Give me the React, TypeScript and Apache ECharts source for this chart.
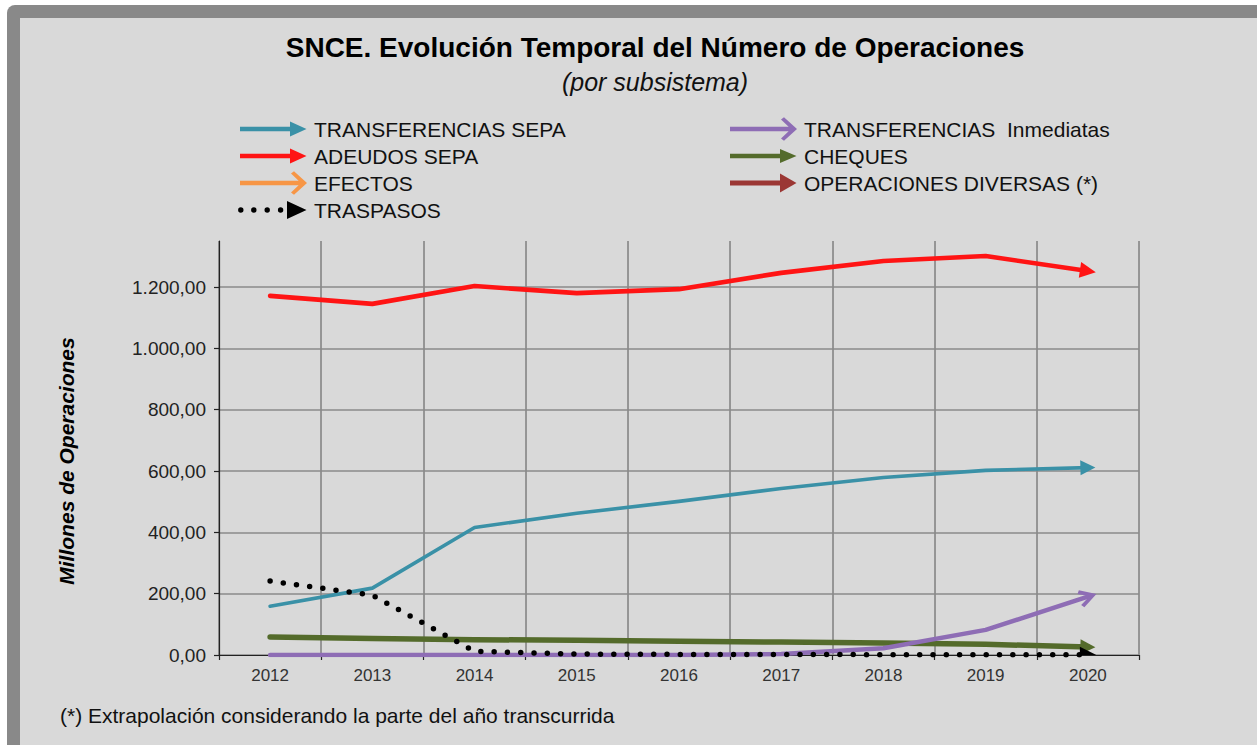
import React, { useEffect, useRef } from 'react';
import * as echarts from 'echarts';

const years = ['2012', '2013', '2014', '2015', '2016', '2017', '2018', '2019', '2020'];
const transferenciasSepa = [159, 218, 416, 462, 501, 543, 579, 602, 611];
const adeudosSepa = [1171, 1145, 1203, 1180, 1193, 1246, 1285, 1301, 1252];
const efectos: (number | null)[] = [null, null, null, null, null, null, null, null, null];
const traspasos = [241, 195, 12, 3, 2, 2, 1, 1, 0.5];
const transferenciasInmediatas = [0, 0, 0, 0, 0, 3, 22, 82, 190];
const cheques = [59, 54, 50, 48, 45, 42, 39, 35, 26];
const operacionesDiversas: (number | null)[] = [null, null, null, null, null, null, null, null, null];

const yMin = 0;
const yMax = 1350;
const yInterval = 200;

const FONT = '"Liberation Sans", Arial, Helvetica, sans-serif';

const fmt = (v: number) => {
  const [i, d] = v.toFixed(2).split('.');
  return i.replace(/\B(?=(\d{3})+(?!\d))/g, '.') + ',' + d;
};

// legend icons in a 71 x 24 box (corner moveTo points fix the box)
const BOX = 'M0,0 M71,24 ';
const solidIcon = (h: number, t = 4.6) =>
  'path://' + BOX +
  `M2,${12 - t / 2} L52,${12 - t / 2} L52,${12 - h} L68.5,12 L52,${12 + h} L52,${12 + t / 2} L2,${12 + t / 2} Z`;
const chevronIcon =
  'path://' + BOX +
  'M2,9.7 L63,9.7 L63,14.3 L2,14.3 Z M53,2.6 L56,0.3 L69,12 L56,23.7 L53,21.4 L63,12 Z';
const dot = (cx: number, r = 2.7) =>
  `M${cx - r},12 A${r},${r} 0 1 0 ${cx + r},12 A${r},${r} 0 1 0 ${cx - r},12 Z `;
const dottedIcon =
  'path://' + BOX + dot(2.8) + dot(15.8) + dot(29.2) + dot(42.6) + 'M49,3 L68.5,12 L49,21 Z';

const chevronSymbol = 'path://M0,13 L10,0 L20,13 L16.5,15 L10,6 L3.5,15 Z';

type S = {
  name: string;
  values: (number | null)[];
  color: string;
  width: number;
  z: number;
  end: string;
  size: number;
  dash?: number[];
};

const seriesDefs: S[] = [
  { name: 'EFECTOS', values: efectos, color: '#f79646', width: 4.5, z: 2, end: chevronSymbol, size: 16 },
  { name: 'OPERACIONES DIVERSAS (*)', values: operacionesDiversas, color: '#9b3734', width: 4.5, z: 2, end: 'triangle', size: 16 },
  { name: 'CHEQUES', values: cheques, color: '#546b2b', width: 5.5, z: 3, end: 'triangle', size: 15 },
  { name: 'TRANSFERENCIAS  Inmediatas', values: transferenciasInmediatas, color: '#8e6db5', width: 4.5, z: 4, end: chevronSymbol, size: 18 },
  { name: 'TRANSFERENCIAS SEPA', values: transferenciasSepa, color: '#3a91a7', width: 3.6, z: 5, end: 'triangle', size: 15 },
  { name: 'ADEUDOS SEPA', values: adeudosSepa, color: '#ff1414', width: 4.6, z: 6, end: 'triangle', size: 16 },
  { name: 'TRASPASOS', values: traspasos, color: '#000000', width: 5.5, z: 7, end: 'triangle', size: 16, dash: [0, 13.3] },
];

export default function App() {
  const ref = useRef<HTMLDivElement>(null);

  useEffect(() => {
    if (!ref.current) return;
    const chart = echarts.init(ref.current, null, { renderer: 'svg' });

    const series: any[] = [];
    seriesDefs.forEach((s) => {
      const coords = s.values
        .map((v, i) => (v == null ? null : [i, v]))
        .filter((p) => p !== null) as number[][];
      // line body
      series.push({
        type: 'lines',
        name: s.name,
        coordinateSystem: 'cartesian2d',
        polyline: true,
        silent: true,
        z: s.z,
        lineStyle: {
          color: s.color,
          width: s.width,
          opacity: 1,
          curveness: 0,
          type: s.dash ? s.dash : 'solid',
          cap: 'round',
          join: 'round',
        },
        data: coords.length > 1 ? [{ coords }] : [],
      });
      // arrow head on the last segment
      if (coords.length > 1) {
        series.push({
          type: 'lines',
          coordinateSystem: 'cartesian2d',
          polyline: false,
          silent: true,
          z: s.z,
          symbol: ['none', s.end],
          symbolSize: [1, s.size],
          lineStyle: { color: s.color, width: 0, opacity: 1, curveness: 0 },
          data: [{ coords: coords.slice(-2) }],
        });
      }
    });

    const legendText = { fontSize: 21, color: '#111', fontFamily: FONT };
    const legendCommon = {
      orient: 'vertical',
      top: 117,
      itemWidth: 71,
      itemHeight: 24,
      itemGap: 3,
      padding: 0,
      selectedMode: false,
      textStyle: legendText,
      itemStyle: { borderWidth: 0, opacity: 1 },
    };

    chart.setOption({
      animation: false,
      backgroundColor: '#ffffff',
      textStyle: { fontFamily: FONT },
      title: [
        {
          text: 'SNCE. Evolución Temporal del Número de Operaciones',
          left: 655,
          top: 33,
          textAlign: 'center',
          padding: 0,
          textStyle: { fontSize: 28, fontWeight: 'bold', color: '#000', fontFamily: FONT },
        },
        {
          text: '(por subsistema)',
          left: 655,
          top: 69,
          textAlign: 'center',
          padding: 0,
          textStyle: { fontSize: 25, fontWeight: 'normal', fontStyle: 'italic', color: '#111', fontFamily: FONT },
        },
      ],
      legend: [
        {
          ...legendCommon,
          left: 238,
          data: [
            { name: 'TRANSFERENCIAS SEPA', icon: solidIcon(7.5) },
            { name: 'ADEUDOS SEPA', icon: solidIcon(7.5) },
            { name: 'EFECTOS', icon: chevronIcon },
            { name: 'TRASPASOS', icon: dottedIcon },
          ],
        },
        {
          ...legendCommon,
          left: 728,
          data: [
            { name: 'TRANSFERENCIAS  Inmediatas', icon: chevronIcon },
            { name: 'CHEQUES', icon: solidIcon(7) },
            { name: 'OPERACIONES DIVERSAS (*)', icon: solidIcon(9.5, 5) },
          ],
        },
      ],
      grid: { left: 219, top: 241, width: 920, height: 414 },
      xAxis: {
        type: 'category',
        data: years,
        boundaryGap: true,
        axisLine: { show: true, lineStyle: { color: '#222', width: 1.2 } },
        axisTick: { show: true, length: 5, lineStyle: { color: '#222', width: 1.2 } },
        axisLabel: { fontSize: 17, color: '#333', margin: 12, fontFamily: FONT },
        splitLine: { show: true, lineStyle: { color: '#8a8a8a', width: 1.7 } },
      },
      yAxis: {
        type: 'value',
        min: yMin,
        max: yMax,
        interval: yInterval,
        axisLine: { show: true, lineStyle: { color: '#222', width: 1.2 } },
        axisTick: { show: true, length: 5, lineStyle: { color: '#222', width: 1.2 } },
        axisLabel: {
          fontSize: 19,
          color: '#222',
          margin: 13,
          fontFamily: FONT,
          showMaxLabel: false,
          formatter: (v: number) => (v > 1200 ? '' : fmt(v)),
        },
        splitLine: { show: true, showMaxLine: false, lineStyle: { color: '#8a8a8a', width: 1.7 } },
      },
      graphic: [
        {
          type: 'rect',
          z: -10,
          silent: true,
          shape: { x: 7, y: 5, width: 1400, height: 900, r: 8 },
          style: { fill: '#898989' },
        },
        {
          type: 'rect',
          z: -9,
          silent: true,
          shape: { x: 20, y: 18, width: 1400, height: 900 },
          style: { fill: '#d9d9d9' },
        },
        {
          type: 'text',
          x: 66,
          y: 461,
          rotation: Math.PI / 2,
          style: {
            text: 'Millones de Operaciones',
            fontSize: 21,
            fontWeight: 'bold',
            fontStyle: 'italic',
            fontFamily: FONT,
            fill: '#000',
            align: 'center',
            verticalAlign: 'middle',
          },
        },
        {
          type: 'text',
          x: 60,
          y: 715,
          style: {
            text: '(*) Extrapolación considerando la parte del año transcurrida',
            fontSize: 21,
            fontFamily: FONT,
            fill: '#111',
            align: 'left',
            verticalAlign: 'middle',
          },
        },
      ],
      series,
    });

    return () => chart.dispose();
  }, []);

  return (
    <div
      ref={ref}
      style={{ position: 'absolute', left: 0, top: 0, width: 1257, height: 745 }}
    />
  );
}
